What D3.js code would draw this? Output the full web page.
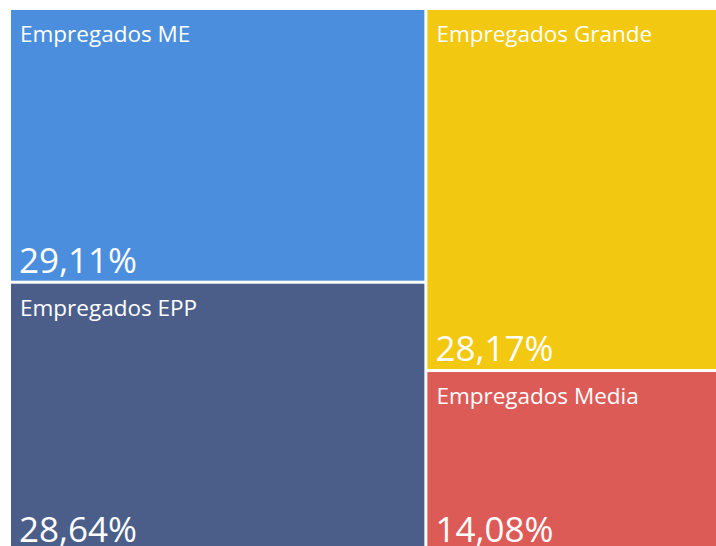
<!DOCTYPE html>
<html>
<head>
<meta charset="utf-8">
<script src="https://cdn.jsdelivr.net/npm/d3@7"></script>
<style>
  body { margin: 0; background: #fff; overflow: hidden; }
  text { font-family: "Segoe UI", "Open Sans", sans-serif; fill: #fff; }
</style>
</head>
<body>
<div id="chart"></div>
<script>
const categories = ["Empregados ME", "Empregados EPP", "Empregados Grande", "Empregados Media"]
const values = [29.11, 28.64, 28.17, 14.08]
const colors = ["#4A8EDD", "#4B5E8A", "#F2C811", "#DD5B57"]

const WIDTH = 716
const HEIGHT = 546
const AREA = { LEFT: 11, TOP: 10, RIGHT: 729, BOTTOM: 550 }

const svg = d3.select("#chart")
              .append("svg")
              .attr("width", WIDTH)
              .attr("height", HEIGHT)

const data = categories.map((c, i) => ({ name: c, value: values[i], color: colors[i] }))

const root = d3.hierarchy({ children: data })
               .sum(d => d.value || 0)
               .sort((a, b) => b.value - a.value)

d3.treemap()
  .tile(d3.treemapSquarify)
  .size([AREA.RIGHT - AREA.LEFT, AREA.BOTTOM - AREA.TOP])
  .paddingInner(3)(root)

// 29.11 -> "29,11%"
const fmt = v => d3.format(".2f")(v).replace(".", ",") + "%"

const tiles = svg.append("g")
                 .attr("transform", `translate(${AREA.LEFT}, ${AREA.TOP})`)
                 .selectAll("g")
                 .data(root.leaves())
                 .enter()
                 .append("g")
                 .attr("transform", d => `translate(${d.x0}, ${d.y0})`)

tiles.append("rect")
     .attr("width", d => d.x1 - d.x0)
     .attr("height", d => d.y1 - d.y0)
     .attr("fill", d => d.data.color)

tiles.append("text")
     .attr("x", 9)
     .attr("y", 32)
     .style("font-size", "22.5px")
     .text(d => d.data.name)

tiles.append("text")
     .attr("x", 8)
     .attr("y", d => d.y1 - d.y0 - 8)
     .style("font-size", "35px")
     .text(d => fmt(d.data.value))
</script>
</body>
</html>
